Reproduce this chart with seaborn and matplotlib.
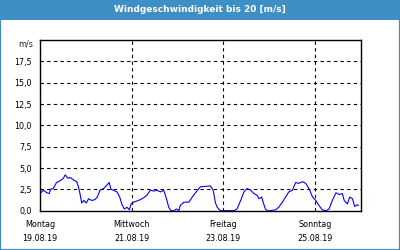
import matplotlib
matplotlib.use("Agg")
import matplotlib.pyplot as plt
import matplotlib.patches as mpatches
import seaborn as sns
import pandas as pd

# ---- data ----
start_date = "2019-08-19"
day_offset = [0.00, 0.07, 0.15, 0.20, 0.23, 0.29, 0.36, 0.44, 0.51, 0.55, 0.61, 0.66,
              0.73, 0.80, 0.84, 0.88, 0.91, 0.96, 1.01, 1.06, 1.13, 1.20, 1.25, 1.31,
              1.39, 1.46, 1.51, 1.55, 1.60, 1.68, 1.74, 1.79, 1.84, 1.90, 1.95, 1.99,
              2.04, 2.15, 2.26, 2.33, 2.41, 2.48, 2.55, 2.63, 2.70, 2.75, 2.81, 2.86,
              2.92, 2.98, 3.03, 3.06, 3.14, 3.25, 3.35, 3.50, 3.72, 3.78, 3.83, 3.87,
              3.90, 3.94, 4.23, 4.30, 4.38, 4.45, 4.52, 4.60, 4.67, 4.74, 4.78, 4.84,
              4.87, 4.92, 4.96, 5.03, 5.14, 5.21, 5.29, 5.36, 5.43, 5.51, 5.58, 5.65,
              5.73, 5.80, 5.87, 5.95, 6.02, 6.09, 6.16, 6.24, 6.31, 6.38, 6.46, 6.53,
              6.60, 6.64, 6.71, 6.76, 6.82, 6.87, 6.93, 6.95]
wind_speed = [2.0, 2.4, 2.1, 2.0, 2.5, 2.6, 3.3, 3.5, 3.8, 4.2, 3.8, 3.9,
              3.6, 3.4, 2.8, 1.8, 0.9, 1.2, 0.9, 1.4, 1.2, 1.3, 1.6, 2.4,
              2.6, 3.0, 3.3, 2.5, 2.4, 2.2, 1.6, 0.7, 0.2, 0.4, 0.1, 0.8,
              1.0, 1.2, 1.5, 1.8, 2.4, 2.3, 2.4, 2.2, 2.4, 1.6, 0.4, 0.0,
              0.0, 0.2, 0.0, 0.6, 1.0, 1.0, 1.8, 2.8, 2.9, 2.4, 0.9, 0.4,
              0.2, 0.0, 0.0, 0.2, 1.2, 2.2, 2.6, 2.4, 2.0, 1.8, 1.4, 1.6,
              1.0, 0.2, 0.0, 0.0, 0.1, 0.4, 1.0, 1.6, 2.2, 2.4, 3.3, 3.2,
              3.4, 3.2, 2.6, 1.6, 1.2, 0.6, 0.1, 0.0, 0.2, 1.2, 2.1, 1.9,
              2.0, 1.2, 0.8, 1.6, 1.4, 0.5, 0.7, 0.6]
y_ticks = [0.0, 2.5, 5.0, 7.5, 10.0, 12.5, 15.0, 17.5]
y_tick_labels = ["0,0", "2,5", "5,0", "7,5", "10,0", "12,5", "15,0", "17,5"]
x_label_days = ["Montag", "Mittwoch", "Freitag", "Sonntag"]
x_label_dates = ["19.08.19", "21.08.19", "23.08.19", "25.08.19"]
title = "Windgeschwindigkeit bis 20 [m/s]"
y_unit = "m/s"

# ---- build ----
t0 = pd.Timestamp(start_date)
df = pd.DataFrame({
    "time": t0 + pd.to_timedelta(day_offset, unit="D"),
    "speed": wind_speed,
})

sns.set_style("white")
plt.rcParams["font.family"] = ["DejaVu Sans"]

fig = plt.figure(figsize=(4, 2.5), dpi=100)
fig.patch.set_facecolor("white")

blue = "#3d8fc6"
# title bar and frame
fig.add_artist(mpatches.Rectangle((0, 230 / 250), 1, 20 / 250, transform=fig.transFigure,
                                  facecolor=blue, edgecolor="none", zorder=0))
fig.add_artist(mpatches.Rectangle((0, 0), 1, 1, transform=fig.transFigure,
                                  facecolor="none", edgecolor=blue, linewidth=1.6,
                                  zorder=5, clip_on=False))
fig.text(0.5, 240 / 250, title, color="white", fontsize=6.5, fontweight="bold",
         ha="center", va="center")

ax = fig.add_axes([40 / 400, (250 - 210.7) / 250, 320.7 / 400, 170.7 / 250])
sns.lineplot(data=df, x="time", y="speed", ax=ax, color="#0000ff", linewidth=0.8)

ax.set_ylim(0, 20)
ax.set_xlim(t0, t0 + pd.Timedelta(days=7))
ax.set_yticks(y_ticks)
ax.set_yticklabels(y_tick_labels)

major = [t0 + pd.Timedelta(days=d) for d in (0, 2, 4, 6)]
minor = [t0 + pd.Timedelta(days=d) for d in (1, 3, 5)]
ax.set_xticks(major)
ax.set_xticklabels([f"{a}\n{b}" for a, b in zip(x_label_days, x_label_dates)])
ax.set_xticks(minor, minor=True)
for lab in ax.get_xticklabels():
    lab.set_linespacing(1.6)

ax.set_xlabel("")
ax.set_ylabel("")
ax.tick_params(axis="both", which="both", direction="out", length=3, width=0.8,
               colors="black", labelsize=5.8, pad=3)
ax.tick_params(axis="x", which="both", pad=4)

for y in y_ticks[1:]:
    ax.axhline(y, color="black", linestyle=(0, (3, 3)), linewidth=0.8, zorder=1)
for d in (2, 4, 6):
    ax.axvline(t0 + pd.Timedelta(days=d), color="black", linestyle=(0, (3, 3)),
               linewidth=0.8, zorder=1)

for s in ax.spines.values():
    s.set_visible(True)
    s.set_color("black")
    s.set_linewidth(1.0)

fig.text(33 / 400, (250 - 44) / 250, y_unit, fontsize=5.8, ha="right", va="center")

fig.savefig("out.png", dpi=100)
